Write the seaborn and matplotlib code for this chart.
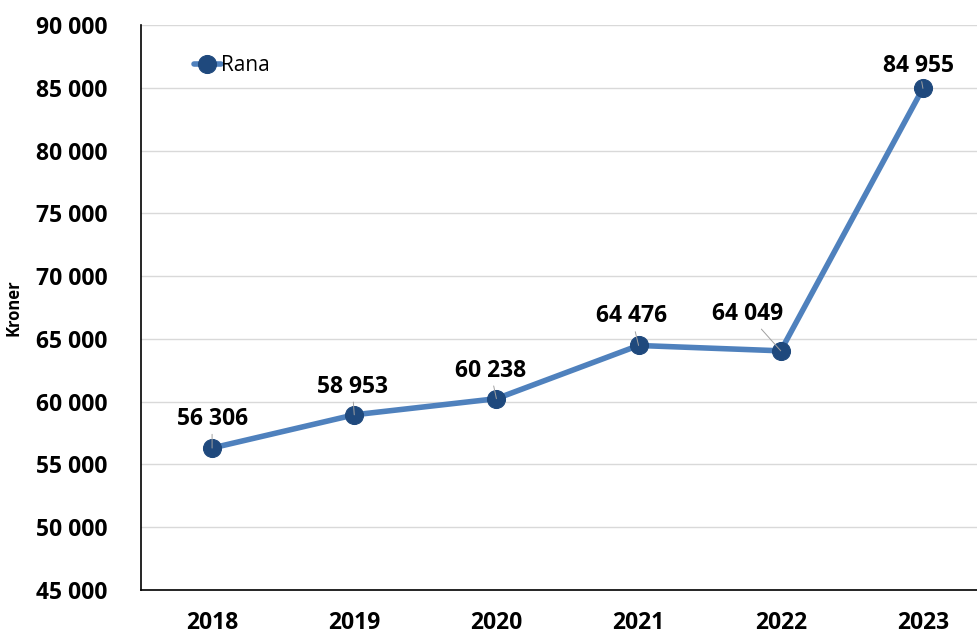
import matplotlib
matplotlib.use("Agg")
import matplotlib.pyplot as plt
import seaborn as sns
import pandas as pd
import numpy as np

years = ["2018", "2019", "2020", "2021", "2022", "2023"]
values = [56306, 58953, 60238, 64476, 64049, 84955]
value_labels = ["56 306", "58 953", "60 238", "64 476", "64 049", "84 955"]
series_name = "Rana"
y_ticks = [45000, 50000, 55000, 60000, 65000, 70000, 75000, 80000, 85000, 90000]
y_tick_labels = ["45 000", "50 000", "55 000", "60 000", "65 000", "70 000",
                 "75 000", "80 000", "85 000", "90 000"]

df = pd.DataFrame({"Year": years, "Kroner": values, "Serie": series_name})

sns.set_theme(style="white")
plt.rcParams['font.family'] = ['Open Sans', 'DejaVu Sans']

W, H = 977, 636
fig = plt.figure(figsize=(W / 100, H / 100), dpi=100)
left, right, top, bottom = 141, 994, 25, 590
ax = fig.add_axes([left / W, 1 - bottom / H, (right - left) / W, (bottom - top) / H])

line_color = "#4F81BD"
marker_color = "#1F497D"

sns.lineplot(data=df, x="Year", y="Kroner", hue="Serie", palette=[line_color],
             linewidth=4, marker="o", markersize=13, markerfacecolor=marker_color,
             markeredgecolor=marker_color, ax=ax, sort=False)

ax.set_xlim(-0.5, 5.5)
ax.set_ylim(45000, 90000)
ax.set_yticks(y_ticks)
ax.set_yticklabels(y_tick_labels)
ax.grid(axis="y", color="#D9D9D9", linewidth=1)
ax.set_axisbelow(True)
for s in ["top", "right"]:
    ax.spines[s].set_visible(False)
for s in ["left", "bottom"]:
    ax.spines[s].set_color("black")
    ax.spines[s].set_linewidth(1.2)

ax.tick_params(axis="both", length=0, labelsize=16.5, colors="black")
ax.tick_params(axis="y", pad=24)
ax.tick_params(axis="x", pad=15)
for lbl in ax.get_xticklabels() + ax.get_yticklabels():
    lbl.set_fontweight("bold")
ax.set_xlabel("")
ax.set_ylabel("Kroner", fontsize=12, fontweight="bold", labelpad=10, color="black")

# data labels (offset in pixels relative to the point)
offsets = [(0, 29), (-2, 28), (-6, 28), (-7, 29), (-33, 37), (-4, 22)]
for i, (v, lab) in enumerate(zip(values, value_labels)):
    dx, dy = offsets[i]
    arrow = dict(arrowstyle="-", color="#A0A0A0", linewidth=0.7, shrinkA=0, shrinkB=0)
    ax.annotate(lab, xy=(i, v), xytext=(dx, dy), textcoords="offset pixels",
                ha="center", va="center", fontsize=16.5, fontweight="bold",
                color="black", arrowprops=arrow, zorder=5)

leg = ax.legend(loc="upper left", bbox_to_anchor=(0.052, 0.962), frameon=False,
                fontsize=15, handlelength=1.3, handletextpad=0.0, borderaxespad=0)
for h in leg.legend_handles:
    h.set_linewidth(4)
for t in leg.get_texts():
    t.set_color("black")

fig.savefig("out.png", dpi=100)
